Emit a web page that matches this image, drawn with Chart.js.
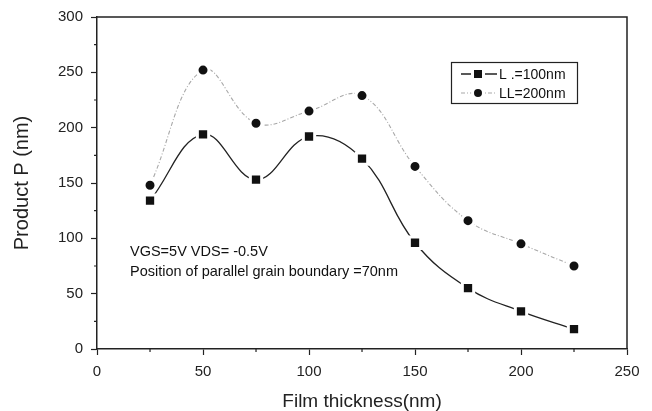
<!DOCTYPE html>
<html>
<head>
<meta charset="utf-8">
<script src="https://cdn.jsdelivr.net/npm/chart.js@4.4.1/dist/chart.umd.min.js"></script>
<style>
  html, body { margin: 0; padding: 0; background: #fff; }
  #wrap { width: 652px; height: 411px; }
</style>
</head>
<body>
<div id="wrap"><canvas id="chart"></canvas></div>
<script>
// values
const thickness = [25, 50, 75, 100, 125, 150, 175, 200, 225];
const ll100 = [134, 194, 153, 192, 172, 96, 55, 34, 18];
const ll200 = [148, 252, 204, 215, 229, 165, 116, 95, 75];
const seriesLabels = ["L .=100nm", "LL=200nm"];
const xMinor = [25, 75, 125, 175, 225];
const yMinor = [25, 75, 125, 175, 225, 275];
const notes = ["VGS=5V VDS= -0.5V", "Position of parallel grain boundary =70nm"];

const FONT = "'Liberation Sans', Arial, sans-serif";

function toPoints(ys) {
    return thickness.map((x, i) => ({ x: x, y: ys[i] }));
}

// draws one marker the same way for plot and legend
function marker(ctx, style, x, y) {
    ctx.save();
    ctx.fillStyle = "#111";
    ctx.strokeStyle = "#fff";
    ctx.lineWidth = 3;
    ctx.beginPath();
    if (style === "rect") {
        ctx.rect(x - 5.5, y - 5.5, 11, 11);
    } else {
        ctx.arc(x, y, 5.5, 0, Math.PI * 2);
    }
    ctx.fill();
    ctx.stroke();
    ctx.restore();
}

// top / right frame and the short minor ticks
const framePlugin = {
    id: "frame",
    afterDraw(chart) {
        const { ctx, chartArea: a, scales } = chart;
        ctx.save();
        ctx.strokeStyle = "#222";
        ctx.lineWidth = 1.5;
        ctx.beginPath();
        ctx.moveTo(a.left, a.top);
        ctx.lineTo(a.right, a.top);
        ctx.lineTo(a.right, a.bottom);
        ctx.stroke();

        ctx.lineWidth = 1.2;
        ctx.beginPath();
        xMinor.forEach(v => {
            const px = scales.x.getPixelForValue(v);
            ctx.moveTo(px, a.bottom);
            ctx.lineTo(px, a.bottom + 3);
        });
        yMinor.forEach(v => {
            const py = scales.y.getPixelForValue(v);
            ctx.moveTo(a.left, py);
            ctx.lineTo(a.left - 3, py);
        });
        ctx.stroke();
        ctx.restore();
    }
};

// boxed legend inside the plot plus the condition text
const legendPlugin = {
    id: "boxLegend",
    afterDatasetsDraw(chart) {
        const { ctx } = chart;
        ctx.save();
        ctx.strokeStyle = "#222";
        ctx.lineWidth = 1.2;
        ctx.strokeRect(451.5, 62.5, 126, 41);

        const rows = [74, 93];
        chart.data.datasets.forEach((ds, i) => {
            const y = rows[i];
            ctx.save();
            ctx.strokeStyle = ds.borderColor;
            ctx.lineWidth = ds.borderWidth;
            ctx.setLineDash(ds.borderDash || []);
            ctx.beginPath();
            ctx.moveTo(461, y);
            ctx.lineTo(497, y);
            ctx.stroke();
            ctx.restore();
            marker(ctx, ds.pointStyle, 478, y);

            ctx.fillStyle = "#111";
            ctx.font = "14px " + FONT;
            ctx.textBaseline = "middle";
            ctx.fillText(ds.label, 499, y + 1);
        });

        ctx.font = "14.5px " + FONT;
        ctx.fillStyle = "#111";
        ctx.textBaseline = "middle";
        ctx.fillText(notes[0], 130, 252);
        ctx.fillText(notes[1], 130, 272);
        ctx.restore();
    }
};

new Chart(document.getElementById("chart"), {
    type: "scatter",
    data: {
        datasets: [
            {
                label: seriesLabels[0],
                data: toPoints(ll100),
                showLine: true,
                tension: 0.4,
                borderColor: "#222",
                borderWidth: 1.3,
                pointStyle: "rect",
                pointRadius: 8,
                pointBorderWidth: 3,
                pointBackgroundColor: "#111",
                pointBorderColor: "#fff"
            },
            {
                label: seriesLabels[1],
                data: toPoints(ll200),
                showLine: true,
                tension: 0.4,
                borderColor: "#a8a8a8",
                borderWidth: 1.1,
                borderDash: [4, 2, 1, 2],
                pointStyle: "circle",
                pointRadius: 6,
                pointBorderWidth: 3,
                pointBackgroundColor: "#111",
                pointBorderColor: "#fff"
            }
        ]
    },
    options: {
        responsive: true,
        maintainAspectRatio: false,
        animation: false,
        layout: { padding: { left: 4, right: 25, top: 17, bottom: 0 } },
        plugins: {
            legend: { display: false },
            tooltip: { enabled: false }
        },
        scales: {
            x: {
                type: "linear",
                min: 0,
                max: 250,
                border: { color: "#222", width: 1.5 },
                grid: { drawOnChartArea: false, tickLength: 6, tickColor: "#222", tickWidth: 1.2 },
                ticks: {
                    stepSize: 50,
                    padding: 8,
                    color: "#222",
                    font: { family: FONT, size: 15, lineHeight: 1.2 }
                },
                title: {
                    display: true,
                    text: "Film thickness(nm)",
                    color: "#222",
                    font: { family: FONT, size: 19, lineHeight: 1 },
                    padding: { top: 3, bottom: 0 }
                }
            },
            y: {
                min: 0,
                max: 300,
                border: { color: "#222", width: 1.5 },
                grid: { drawOnChartArea: false, tickLength: 6, tickColor: "#222", tickWidth: 1.2 },
                ticks: {
                    stepSize: 50,
                    padding: 8,
                    color: "#222",
                    font: { family: FONT, size: 15 }
                },
                title: {
                    display: true,
                    text: "Product P (nm)",
                    color: "#222",
                    font: { family: FONT, size: 20, lineHeight: 1 },
                    padding: { top: 8, bottom: 18 }
                }
            }
        }
    },
    plugins: [framePlugin, legendPlugin]
});
</script>
</body>
</html>
